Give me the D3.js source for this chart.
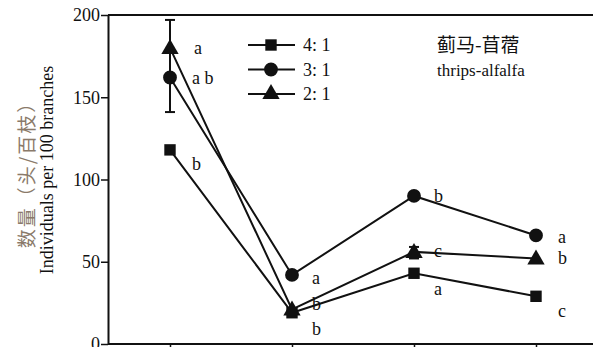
<!DOCTYPE html>
<html>
<head>
<meta charset="utf-8">
<script src="https://cdn.jsdelivr.net/npm/d3@7"></script>
<style>
  body { margin: 0; background: #fff; }
  svg { display: block; }
  svg text { font-family: "Liberation Serif", "Times New Roman", Times, "DejaVu Serif", serif; fill: #111; }
  svg text.cjk { font-family: "Noto Sans CJK SC", sans-serif; }
</style>
</head>
<body>
<div id="chart"></div>
<script>
const W = 593, H = 347;

const xIdx = [0, 1, 2, 3];
const seriesNames = ["4:1", "3:1", "2:1"];
const symbols = ["square", "circle", "triangle"];
const v41 = [118, 19, 43, 29];
const v31 = [162, 42, 90, 66];
const v21 = [180, 21, 56, 52];
const letters41 = ["b", "b", "a", "c"];
const letters31 = ["a b", "a", "b", "a"];
const letters21 = ["a", "b", "c", "b"];
const yTicks = [0, 50, 100, 150, 200];
// error bars: [x index, low, high]
const errBars = [[0, 141, 197], [2, 52, 59]];

const svg = d3.select("#chart").append("svg").attr("width", W).attr("height", H);
const g = svg.append("g");

const x = d3.scaleLinear().domain([-0.5, 3.5]).range([109, 597]);
const y = d3.scaleLinear().domain([0, 200]).range([344, 15]);

// frame
g.append("line").attr("x1", 108).attr("x2", W).attr("y1", y(200)).attr("y2", y(200))
  .attr("stroke", "#111").attr("stroke-width", 2);
g.append("line").attr("x1", 108).attr("x2", W).attr("y1", y(0)).attr("y2", y(0))
  .attr("stroke", "#111").attr("stroke-width", 2);

const yAxis = g.append("g").attr("transform", "translate(108,0)")
  .call(d3.axisLeft(y).tickValues(yTicks).tickSize(7).tickSizeOuter(0));
yAxis.attr("font-family", null);
yAxis.select(".domain").attr("stroke", "#111").attr("stroke-width", 2);
yAxis.selectAll(".tick line").attr("stroke", "#111").attr("stroke-width", 1.5);
yAxis.selectAll(".tick text").style("font-size", "18px").attr("x", -8);

const xAxis = g.append("g").attr("transform", `translate(0,${y(0)})`)
  .call(d3.axisBottom(x).tickValues(xIdx).tickSize(6).tickFormat(""));
xAxis.select(".domain").remove();
xAxis.selectAll(".tick line").attr("stroke", "#111").attr("stroke-width", 1.5);

// y title
const yt = g.append("g").attr("transform", "translate(0,170) rotate(-90)");
yt.append("text").attr("class", "cjk").attr("x", 0).attr("y", 34).attr("text-anchor", "middle")
  .style("font-size", "19px").style("letter-spacing", "2px").style("fill", "#8a7a6a")
  .text("数量（头/百枝）");
yt.append("text").attr("x", 0).attr("y", 53).attr("text-anchor", "middle")
  .style("font-size", "18px").text("Individuals per 100 branches");

// error bars
errBars.forEach(([i, lo, hi]) => {
  const cx = x(i);
  g.append("line").attr("x1", cx).attr("x2", cx).attr("y1", y(lo)).attr("y2", y(hi))
    .attr("stroke", "#111").attr("stroke-width", 2);
  [lo, hi].forEach(v => g.append("line").attr("x1", cx - 5).attr("x2", cx + 5)
    .attr("y1", y(v)).attr("y2", y(v)).attr("stroke", "#111").attr("stroke-width", 2));
});

const symMap = {square: d3.symbolSquare, circle: d3.symbolCircle, triangle: d3.symbolTriangle};
const symSize = {square: 130, circle: 150, triangle: 130};
const line = d3.line().x((d, i) => x(i)).y(d => y(d));

const allVals = [v41, v31, v21];
allVals.forEach((vals, s) => {
  g.append("path").datum(vals).attr("d", line).attr("fill", "none")
    .attr("stroke", "#111").attr("stroke-width", 2);
  g.selectAll(null).data(vals).enter().append("path")
    .attr("d", d3.symbol().type(symMap[symbols[s]]).size(symSize[symbols[s]]))
    .attr("transform", (d, i) => `translate(${x(i)},${y(d) + (symbols[s] === "triangle" ? 1 : 0)})`)
    .attr("fill", "#111");
});

// significance letters (offsets in px from point)
const letterPos = [
  {vals: v41, letters: letters41, off: [[22, 20], [20, 22], [20, 22], [22, 21]]},
  {vals: v31, letters: letters31, off: [[22, 6], [20, 9], [20, 6], [22, 8]]},
  {vals: v21, letters: letters21, off: [[24, 6], [20, 1], [20, 5], [22, 6]]}
];
letterPos.forEach(lp => {
  lp.vals.forEach((v, i) => {
    g.append("text").attr("x", x(i) + lp.off[i][0]).attr("y", y(v) + lp.off[i][1])
      .style("font-size", "18px").text(lp.letters[i]);
  });
});

// legend
const leg = g.append("g");
seriesNames.forEach((n, i) => {
  const ly = 45 + i * 24.5;
  leg.append("line").attr("x1", 248).attr("x2", 295).attr("y1", ly).attr("y2", ly)
    .attr("stroke", "#111").attr("stroke-width", 2);
  leg.append("path").attr("d", d3.symbol().type(symMap[symbols[i]]).size(symSize[symbols[i]])())
    .attr("transform", `translate(271,${ly})`).attr("fill", "#111");
  leg.append("text").attr("x", 303).attr("y", ly + 6).style("font-size", "18px")
    .text(n.replace(":", ": "));
});

g.append("text").attr("class", "cjk").attr("x", 437).attr("y", 52)
  .style("font-size", "19px").text("蓟马-苜蓿");
g.append("text").attr("x", 437).attr("y", 76).style("font-size", "17px").text("thrips-alfalfa");
</script>
</body>
</html>
